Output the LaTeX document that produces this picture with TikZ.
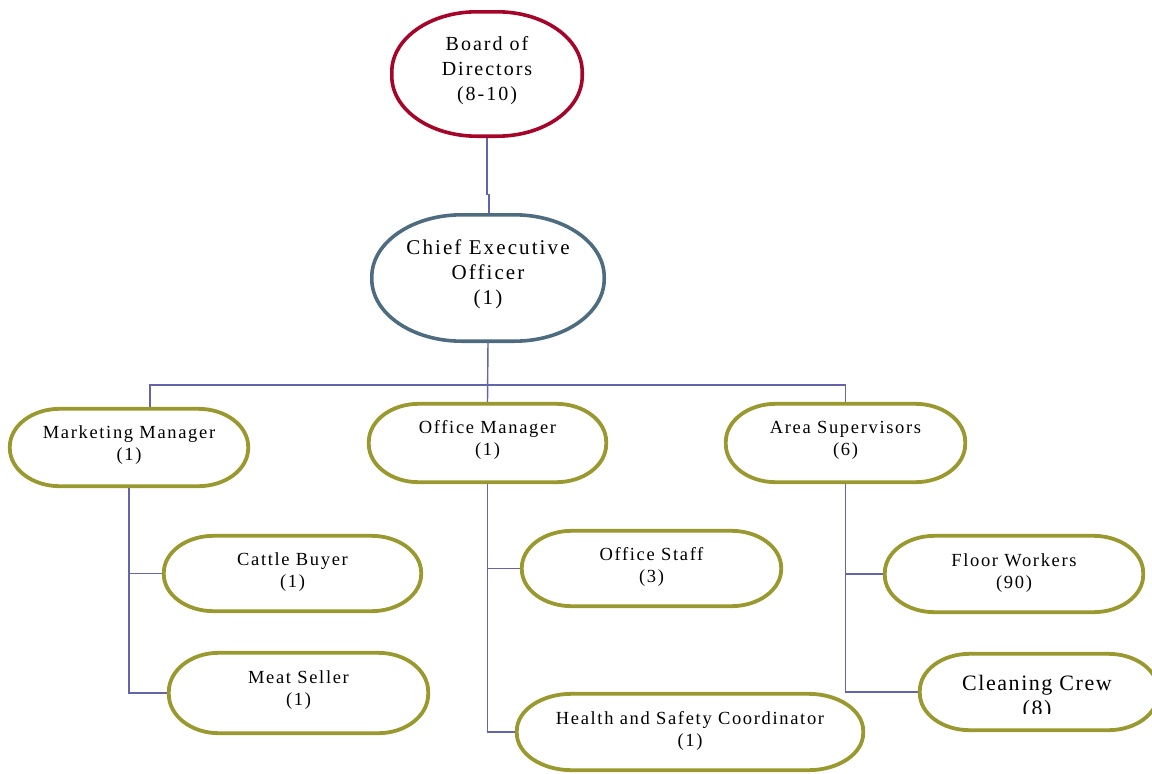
\documentclass[tikz,border=0pt]{standalone}
\usepackage{fontspec}
\setmainfont{Liberation Serif}
\newfontfamily\lblfont{Liberation Serif}[LetterSpace=9]
\newfontfamily\bigfont{Liberation Serif}[LetterSpace=10]
\newfontfamily\ccfont{Liberation Serif}[LetterSpace=7]
\definecolor{linec}{RGB}{100,100,170}
\definecolor{boardc}{RGB}{165,5,40}
\definecolor{ceoc}{RGB}{78,108,128}
\definecolor{olive}{RGB}{153,153,48}
\newcommand\capsule[4]{%
  \draw[#4] ([xshift=#2pt]#1.north west) -- ([xshift=-#2pt]#1.north east)
    arc[start angle=90,end angle=0,x radius=#2,y radius=#3]
    -- ([yshift=#3pt]#1.south east)
    arc[start angle=0,end angle=-90,x radius=#2,y radius=#3]
    -- ([xshift=#2pt]#1.south west)
    arc[start angle=270,end angle=180,x radius=#2,y radius=#3]
    -- ([yshift=-#3pt]#1.north west)
    arc[start angle=180,end angle=90,x radius=#2,y radius=#3] -- cycle;}
\begin{document}
\begin{tikzpicture}[x=1pt,y=1pt,
  box/.style={rectangle,inner sep=0pt},
  lbl/.style={align=center,inner sep=0pt,font=\lblfont\fontsize{18.5}{22}\selectfont},
  big/.style={align=center,inner sep=0pt,font=\bigfont\fontsize{21}{25}\selectfont},
  ccl/.style={align=center,inner sep=0pt,font=\ccfont\fontsize{22}{25}\selectfont},
  conn/.style={draw=linec,line width=1.4pt},
  boardline/.style={draw=boardc,line width=3.6pt,fill=white},
  ceoline/.style={draw=ceoc,line width=3.6pt,fill=white},
  oliveline/.style={draw=olive,line width=3.8pt,fill=white}]
\useasboundingbox (0,0) rectangle (1152,-774);

% shape nodes
\node[box,minimum width=190pt,minimum height=124pt] (board) at (487,-74) {};
\node[box,minimum width=232pt,minimum height=126pt] (ceo) at (488,-278) {};
\node[box,minimum width=238pt,minimum height=77pt] (mm) at (129,-447.5) {};
\node[box,minimum width=237pt,minimum height=78pt] (om) at (487.5,-443) {};
\node[box,minimum width=239pt,minimum height=78pt] (as) at (845.5,-443) {};
\node[box,minimum width=257pt,minimum height=75pt] (cb) at (292.5,-573.5) {};
\node[box,minimum width=259pt,minimum height=80pt] (ms) at (298.5,-693) {};
\node[box,minimum width=259pt,minimum height=75pt] (os) at (651.5,-568.5) {};
\node[box,minimum width=346pt,minimum height=76pt] (hs) at (690,-732) {};
\node[box,minimum width=258pt,minimum height=76pt] (fw) at (1014,-574) {};
\node[box,minimum width=238pt,minimum height=76pt] (cc) at (1039,-692) {};

% connectors
\draw[conn] (board.south) -- ++(0,-58) -| ([xshift=1pt]ceo.north);
\draw[conn] (ceo.south) -- (om.north);
\coordinate (bus) at (488,-385);
\draw[conn] ([xshift=21pt]mm.north) |- (bus) -| (as.north);
\draw[conn] (mm.south) |- (ms.west);
\draw[conn] (mm.south) |- (cb.west);
\draw[conn] (om.south) |- (hs.west);
\draw[conn] (om.south) |- (os.west);
\draw[conn] (as.south) |- (cc.west);
\draw[conn] (as.south) |- (fw.west);

% outlines
\capsule{board}{85}{60}{boardline}
\capsule{ceo}{90}{62}{ceoline}
\capsule{mm}{50}{38}{oliveline}
\capsule{om}{50}{38}{oliveline}
\capsule{as}{50}{38}{oliveline}
\capsule{cb}{50}{37}{oliveline}
\capsule{ms}{50}{39}{oliveline}
\capsule{os}{50}{37}{oliveline}
\capsule{hs}{55}{37}{oliveline}
\capsule{fw}{50}{37}{oliveline}
\capsule{cc}{50}{37}{oliveline}

% labels
\node[big,font=\bigfont\fontsize{20}{25}\selectfont] (boardt) at (487,-71) {Board of\\Directors\\(8-10)};
\node[big] (ceot) at (488,-274) {Chief Executive\\Officer\\(1)};
\node[lbl] (mmt) at (129,-445) {Marketing Manager\\(1)};
\node[lbl] (omt) at (487.5,-440) {Office Manager\\(1)};
\node[lbl] (ast) at (845.5,-440) {Area Supervisors\\(6)};
\node[lbl] (cbt) at (292.5,-572) {Cattle Buyer\\(1)};
\node[lbl] (mst) at (298.5,-690) {Meat Seller\\(1)};
\node[lbl] (ost) at (651.5,-567) {Office Staff\\(3)};
\node[lbl] (hst) at (690,-731) {Health and Safety Coordinator\\(1)};
\node[lbl] (fwt) at (1014,-573) {Floor Workers\\(90)};
\begin{scope}
\clip (920,-650) rectangle (1152,-713);
\node[ccl,anchor=base] (cct) at (1037,-715) {Cleaning Crew\\(8)};
\end{scope}
\end{tikzpicture}
\end{document}
